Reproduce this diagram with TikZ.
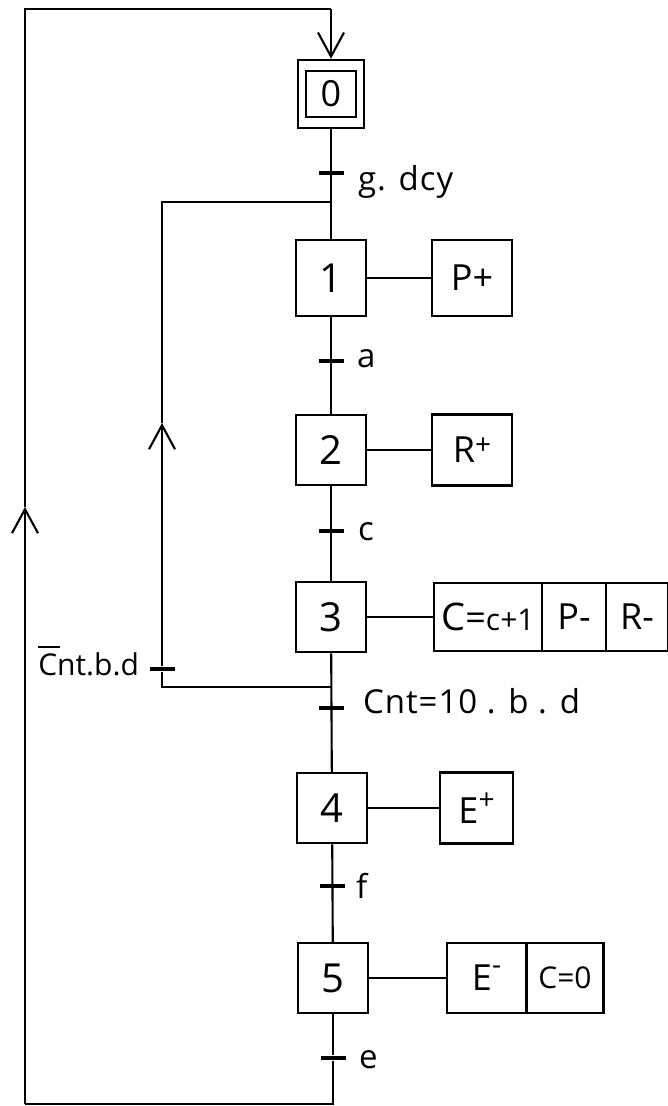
\documentclass[tikz,border=0pt]{standalone}
\usepackage{fontspec}
\setmainfont{Open Sans}
\usetikzlibrary{arrows.meta}
\begin{document}
\begin{tikzpicture}[x=1pt,y=-1pt,line width=2.1pt,
  stepbox/.style={draw,line width=2.5pt,minimum width=70pt,minimum height=70pt,inner sep=0pt,font=\fontsize{40}{44}\selectfont},
  actbox/.style={draw,line width=2.5pt,minimum height=70pt,inner sep=0pt,font=\fontsize{36}{40}\selectfont},
  trans/.style={fill=black,minimum width=25pt,minimum height=3.6pt,inner sep=0pt},
  lbl/.style={inner sep=0pt,font=\fontsize{33}{36}\selectfont\addfontfeature{LetterSpace=3}},
  flow/.style={-{Straight Barb[length=24pt,width=26pt,line width=2.1pt]}}]
\useasboundingbox (0,0) rectangle (667,1106);
% steps
\node[stepbox,minimum width=66pt,minimum height=68pt] (s0) at (331,94) {};
\node[draw,line width=2.1pt,minimum width=50pt,minimum height=46pt,inner sep=0pt,font=\fontsize{36}{40}\selectfont] (s0i) at (331,94) {0};
\node[stepbox,minimum height=76pt] (s1) at (331,278) {1};
\node[stepbox] (s2) at (331,450) {2};
\node[stepbox] (s3) at (331,617) {3};
\node[stepbox] (s4) at (332,808) {4};
\node[stepbox] (s5) at (333,978) {5};
% actions
\node[actbox,minimum width=80pt,minimum height=76pt] (a1) at (472,278) {P+};
\node[actbox,minimum width=80pt,minimum height=71pt] (a2) at (472,450) {R\raisebox{8pt}{\fontsize{28}{30}\selectfont+}};
\node[actbox,minimum width=108pt,minimum height=68pt] (a3a) at (488,617) {{\fontsize{38}{40}\selectfont C}={\fontsize{30}{32}\selectfont c+1}};
\node[actbox,minimum width=64pt,minimum height=68pt] (a3b) at (574,617) {P-};
\node[actbox,minimum width=62pt,minimum height=68pt] (a3c) at (637,617) {R-};
\node[actbox,minimum width=73pt,minimum height=71pt] (a4) at (476.5,808) {E\raisebox{14pt}{\fontsize{28}{30}\selectfont+}};
\node[actbox,minimum width=79pt] (a5a) at (486.5,978) {E\raisebox{16pt}{\fontsize{28}{30}\selectfont-}};
\node[actbox,minimum width=77pt,font=\fontsize{30}{34}\selectfont] (a5b) at (565,978) {C=0};
% main line
\draw (s0) -- (s1);
\draw (s1) -- (s2);
\draw (s2) -- (s3);
\draw (s3) -- (s4);
\draw (s4) -- (s5);
% step-action links
\draw (s1) -- (a1);
\draw (s2) -- (a2);
\draw (s3) -- (a3a);
\draw (s4) -- (a4);
\draw (s5) -- (a5a);
% transitions
\node[trans] (t0) at (331,173) {};
\node[trans] (t1) at (331,361) {};
\node[trans] (t2) at (331,531) {};
\node[trans] (t3) at (331.5,708) {};
\node[trans] (t4) at (332.5,886) {};
\node[trans] (t5) at (333,1058) {};
\node[trans] (tl) at (162,669) {};
\node[lbl,anchor=base west] (l0) at (357,190) {g. dcy};
\node[lbl,anchor=base west] (l1) at (356,367) {a};
\node[lbl,anchor=base west] (l2) at (357,540) {c};
\node[lbl,anchor=base west] (l3) at (362,713) {Cnt=10 . b . d};
\node[lbl,anchor=base west] (l4) at (355,898) {f};
\node[lbl,anchor=base west] (l5) at (358,1068) {e};
\node[lbl,anchor=base east,font=\fontsize{30}{34}\selectfont] (ll) at (140,675) {\rlap{\rule[27pt]{22pt}{2.2pt}}Cnt.b.d};
% loop back from step 3 to step 1
\coordinate (j1) at (331,202);
\coordinate (c1) at (162,202);
\coordinate (c2) at (162,687);
\coordinate (j2) at (331.5,687);
\coordinate (m1) at (162,423);
\draw (j2) -- (c2) -- (tl);
\draw[flow] (tl) -- (m1);
\draw (m1) -- (c1) -- (j1);
% outer loop from step 5 to step 0
\coordinate (b0) at (333,1104);
\coordinate (b1) at (25,1104);
\coordinate (m2) at (25,507);
\coordinate (b2) at (25,9);
\coordinate (b3) at (331,9);
\draw (s5) -- (t5) -- (b0) -- (b1);
\draw[flow] (b1) -- (m2);
\draw (m2) -- (b2) -- (b3);
\draw[flow] (b3) -- (s0);
\end{tikzpicture}
\end{document}
